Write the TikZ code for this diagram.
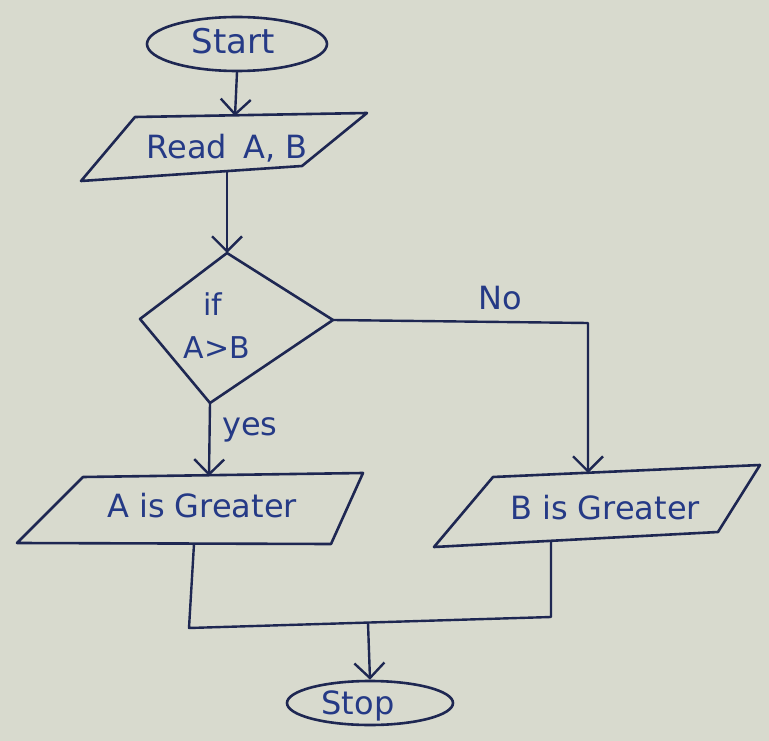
\documentclass[tikz,border=0pt]{standalone}
\usepackage{fontspec}
\setmainfont{DejaVu Sans}
\usetikzlibrary{arrows.meta,shapes.geometric}
\definecolor{paper}{HTML}{D8DACE}
\definecolor{ink}{HTML}{1E2752}
\definecolor{pen}{HTML}{253A86}
\begin{document}
\begin{tikzpicture}[x=1pt,y=-1pt,
  shapeline/.style={draw=ink,line width=2.6pt,line join=round,line cap=round},
  flow/.style={draw=ink,line width=2.4pt,line cap=round,line join=round},
  arr/.style={flow,-{Straight Barb[length=15pt,width=30pt,line width=2.4pt]}},
  lbl/.style={text=pen,font=\fontsize{32}{36}\selectfont,inner sep=0pt},
  term/.style={ellipse,draw=ink,line width=2.6pt,inner sep=0pt}]
\path[fill=paper,use as bounding box] (0,0) rectangle (769,741);
% Start
\node[term,minimum width=180pt,minimum height=54pt] (start) at (237,44) {};
\node[lbl,font=\fontsize{34}{38}\selectfont] (starttxt) at (233,41) {Start};
% Read A, B
\coordinate (rTL) at (135,117); \coordinate (rTR) at (367,113);
\coordinate (rBR) at (302,166); \coordinate (rBL) at (81,181);
\draw[shapeline] (rTL)--(rTR)--(rBR)--(rBL)--cycle;
\node[lbl] (read) at (227,148) {Read\enspace A, B};
\coordinate (readIn) at (235,116);
\coordinate (readOut) at (227,171);
\draw[arr] (start.south) -- (readIn);
% Decision
\coordinate (dT) at (227,253); \coordinate (dL) at (140,319);
\coordinate (dR) at (333,320); \coordinate (dB) at (210,403);
\draw[shapeline] (dT)--(dR)--(dB)--(dL)--cycle;
\node[lbl,font=\fontsize{30}{34}\selectfont] (iftxt) at (213,304) {if};
\node[lbl,font=\fontsize{30}{34}\selectfont] (cond) at (217,348) {A>B};
\draw[arr] (readOut) -- (dT);
% A is Greater
\coordinate (aTL) at (83,477); \coordinate (aTR) at (363,473);
\coordinate (aBR) at (331,544); \coordinate (aBL) at (17,543);
\draw[shapeline] (aTL)--(aTR)--(aBR)--(aBL)--cycle;
\node[lbl] (atxt) at (202,506) {A is Greater};
% B is Greater
\coordinate (bTL) at (493,477); \coordinate (bTR) at (760,465);
\coordinate (bBR) at (718,532); \coordinate (bBL) at (434,547);
\draw[shapeline] (bTL)--(bTR)--(bBR)--(bBL)--cycle;
\node[lbl] (btxt) at (605,508) {B is Greater};
% yes branch
\coordinate (aIn) at (209,476);
\draw[arr] (dB) -- (aIn);
\node[lbl] (yes) at (250,430) {yes};
% No branch
\coordinate (noCorner) at (588,323);
\coordinate (bIn) at (588,473);
\draw[arr] (dR) -- (noCorner) -- (bIn);
\node[lbl] (no) at (500,298) {No};
% merge
\coordinate (aOut) at (194,544); \coordinate (m1) at (189,628);
\coordinate (m2) at (551,617); \coordinate (bOut) at (551,541);
\draw[flow] (aOut) -- (m1) -- (m2) -- (bOut);
\coordinate (mj) at (368,623);
% Stop
\node[term,minimum width=166pt,minimum height=44pt] (stop) at (370,703) {};
\node[lbl,font=\fontsize{32}{36}\selectfont] (stoptxt) at (358,706) {Stop};
\draw[arr] (mj) -- (stop.north);
\end{tikzpicture}
\end{document}
